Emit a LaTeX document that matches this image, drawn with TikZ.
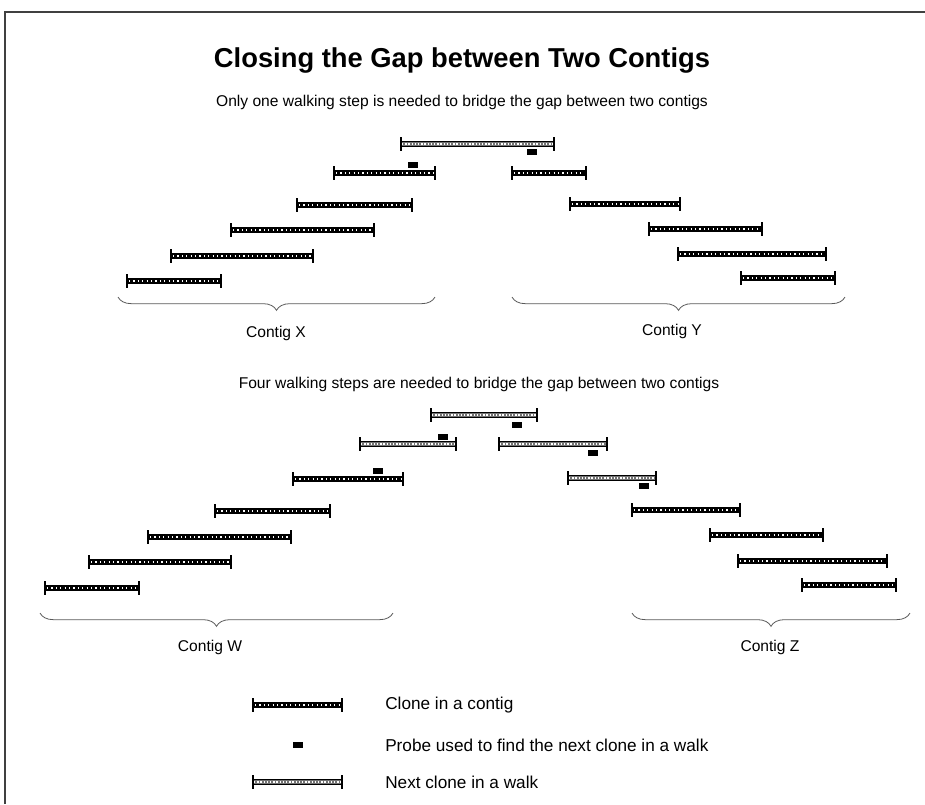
\documentclass[tikz,border=0pt]{standalone}
\usepackage{fontspec}
\setmainfont{Liberation Sans}
\usetikzlibrary{decorations.pathreplacing}

\tikzset{
  endtick/.style={line width=0.8pt},
  contigbrace/.style={decorate, decoration={brace, mirror, amplitude=10pt}, draw=black!65, line width=0.6pt},
  caption/.style={font=\fontsize{11.7}{13}\selectfont, inner sep=0pt},
  legendtext/.style={font=\fontsize{12.9}{14}\selectfont, inner sep=0pt, anchor=west},
  titletext/.style={font=\bfseries\fontsize{20.5}{23}\selectfont, inner sep=0pt},
}

% clone belonging to a contig: dark bar with a row of light dots
\newcommand{\ctgclone}[3]{%
  \fill (#1,#3-3) rectangle (#2,#3+3);
  \draw[white, line width=0.9pt, dash pattern=on 0.9pt off 2.4pt] (#1+2,#3) -- (#2-2,#3);
  \draw[endtick] (#1,#3-7) -- (#1,#3+7) (#2,#3-7) -- (#2,#3+7);
}
% clone found by a walking step: lighter checkered bar
\newcommand{\wlkclone}[3]{%
  \fill[black!55] (#1,#3-2.8) rectangle (#2,#3+2.8);
  \draw[white, line width=1.1pt, dash pattern=on 1.1pt off 1.3pt] (#1+1,#3) -- (#2-1,#3);
  \draw[line width=0.75pt] (#1,#3-2.8) -- (#2,#3-2.8) (#1,#3+2.8) -- (#2,#3+2.8);
  \draw[endtick] (#1,#3-7) -- (#1,#3+7) (#2,#3-7) -- (#2,#3+7);
}
% probe used for the next step
\newcommand{\probe}[2]{%
  \fill (#1-5,#2-2.6) rectangle (#1+5,#2+2.6);
}

\begin{document}
\begin{tikzpicture}[x=0.75pt, y=-0.75pt]
\useasboundingbox (0,0) rectangle (925,804);

% frame
\draw[black!75, line width=1pt] (5,804) -- (5,12) -- (925,12);

% headings
\node[titletext] (title) at (462,60) {Closing the Gap between Two Contigs};
\node[caption] (sub1) at (462,102) {Only one walking step is needed to bridge the gap between two contigs};

% one walking step
\wlkclone{401}{554}{144}
\probe{532}{152}
\ctgclone{334}{435}{173}
\probe{413}{165}
\ctgclone{297}{412}{205}
\ctgclone{231}{374}{230}
\ctgclone{171}{313}{256}
\ctgclone{127}{221}{281}
\ctgclone{512}{586}{173}
\ctgclone{570}{680}{204}
\ctgclone{649}{762}{229}
\ctgclone{678}{826}{254}
\ctgclone{741}{835}{278}

\coordinate (xa) at (118,297);
\coordinate (xb) at (435,297);
\coordinate (ya) at (512,297);
\coordinate (yb) at (845,297);
\draw[contigbrace] (xa) -- (xb);
\draw[contigbrace] (ya) -- (yb);
\node[caption] (cx) at (276,333) {Contig X};
\node[caption] (cy) at (672,331) {Contig Y};

% four walking steps
\node[caption] (sub2) at (479,384) {Four walking steps are needed to bridge the gap between two contigs};

\wlkclone{431}{537}{415}
\probe{517}{425}
\wlkclone{360}{456}{444}
\probe{443}{437}
\wlkclone{499}{607}{444}
\probe{593}{453}
\ctgclone{293}{403}{479}
\probe{378}{471}
\wlkclone{568}{656}{478}
\probe{644}{486}
\ctgclone{215}{330}{511}
\ctgclone{148}{291}{537}
\ctgclone{89}{231}{562}
\ctgclone{45}{139}{588}
\ctgclone{632}{740}{510}
\ctgclone{710}{823}{535}
\ctgclone{738}{887}{561}
\ctgclone{802}{896}{585}

\coordinate (wa) at (40,613);
\coordinate (wb) at (393,613);
\coordinate (za) at (632,613);
\coordinate (zb) at (910,613);
\draw[contigbrace] (wa) -- (wb);
\draw[contigbrace] (za) -- (zb);
\node[caption] (cw) at (210,647) {Contig W};
\node[caption] (cz) at (770,647) {Contig Z};

% legend
\ctgclone{253}{342}{705}
\node[legendtext] (l1) at (385,705) {Clone in a contig};
\probe{298}{745}
\node[legendtext] (l2) at (385,745) {Probe used to find the next clone in a walk};
\wlkclone{253}{342}{782}
\node[legendtext] (l3) at (385,782) {Next clone in a walk};
\end{tikzpicture}
\end{document}
